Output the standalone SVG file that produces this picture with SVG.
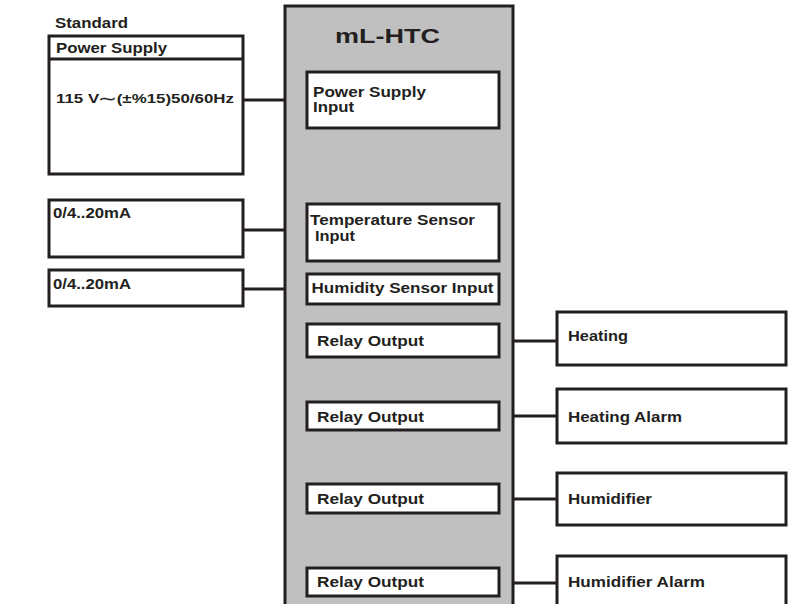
<svg xmlns="http://www.w3.org/2000/svg" width="796" height="604" viewBox="0 0 796 604">
<style>
text{font-family:"Liberation Sans",Arial,sans-serif;font-weight:bold;fill:#231f20}
.b{fill:#fff;stroke:#231f20;stroke-width:3}
.m{fill:#c0c0c0;stroke:#231f20;stroke-width:3}
.c line{stroke:#231f20;stroke-width:3}
.s{font-size:14px}
.r{font-size:15px}
</style>
<rect width="796" height="604" fill="#fff"/>
<g id="main">
<rect class="m" x="285" y="6" width="228" height="620"/>
<text x="335" y="42.5" font-size="20" textLength="105" lengthAdjust="spacingAndGlyphs">mL-HTC</text>
</g>
<g class="c" id="connectors">
<line x1="244" y1="100" x2="285" y2="100"/>
<line x1="244" y1="230" x2="285" y2="230"/>
<line x1="244" y1="289" x2="285" y2="289"/>
<line x1="513" y1="341" x2="557" y2="341"/>
<line x1="513" y1="416" x2="557" y2="416"/>
<line x1="513" y1="499" x2="557" y2="499"/>
<line x1="513" y1="583" x2="557" y2="583"/>
</g>
<g id="power-supply">
<text class="s" x="55" y="28" textLength="73" lengthAdjust="spacingAndGlyphs">Standard</text>
<rect class="b" x="49" y="36" width="194" height="138"/>
<line x1="49" y1="59" x2="243" y2="59" stroke="#231f20" stroke-width="3"/>
<text class="s" x="56" y="53" textLength="111" lengthAdjust="spacingAndGlyphs">Power Supply</text>
<text x="56" y="103" font-size="13.5" textLength="178" lengthAdjust="spacingAndGlyphs">115 V⁓(±%15)50/60Hz</text>
</g>
<g id="temp-source">
<rect class="b" x="49" y="200" width="194" height="57"/>
<text class="s" x="53" y="217.5" textLength="78" lengthAdjust="spacingAndGlyphs">0/4..20mA</text>
</g>
<g id="hum-source">
<rect class="b" x="49" y="270" width="194" height="36"/>
<text class="s" x="53" y="289" textLength="78" lengthAdjust="spacingAndGlyphs">0/4..20mA</text>
</g>
<g id="psu-input">
<rect class="b" x="307" y="72" width="192" height="56"/>
<text class="s" x="313" y="97" textLength="113" lengthAdjust="spacingAndGlyphs">Power Supply</text>
<text class="s" x="313" y="112" textLength="41" lengthAdjust="spacingAndGlyphs">Input</text>
</g>
<g id="temp-input">
<rect class="b" x="307" y="204" width="192" height="57"/>
<text class="s" x="310" y="225" textLength="165" lengthAdjust="spacingAndGlyphs">Temperature Sensor</text>
<text class="s" x="315" y="240.5" textLength="40" lengthAdjust="spacingAndGlyphs">Input</text>
</g>
<g id="hum-input">
<rect class="b" x="307" y="274" width="192" height="30"/>
<text class="s" x="311.5" y="293" textLength="182" lengthAdjust="spacingAndGlyphs">Humidity Sensor Input</text>
</g>
<g id="relay1">
<rect class="b" x="307" y="324" width="192" height="33"/>
<text class="r" x="317" y="345.5" textLength="107" lengthAdjust="spacingAndGlyphs">Relay Output</text>
</g>
<g id="relay2">
<rect class="b" x="307" y="402" width="192" height="28"/>
<text class="r" x="317" y="421.5" textLength="107" lengthAdjust="spacingAndGlyphs">Relay Output</text>
</g>
<g id="relay3">
<rect class="b" x="307" y="484" width="192" height="29"/>
<text class="r" x="317" y="503.5" textLength="107" lengthAdjust="spacingAndGlyphs">Relay Output</text>
</g>
<g id="relay4">
<rect class="b" x="307" y="568" width="192" height="28"/>
<text class="r" x="317" y="587" textLength="107" lengthAdjust="spacingAndGlyphs">Relay Output</text>
</g>
<g id="heating">
<rect class="b" x="557" y="312" width="229" height="53"/>
<text class="r" x="568" y="341" textLength="60" lengthAdjust="spacingAndGlyphs">Heating</text>
</g>
<g id="heating-alarm">
<rect class="b" x="557" y="389" width="229" height="54"/>
<text class="r" x="568" y="421.5" textLength="114" lengthAdjust="spacingAndGlyphs">Heating Alarm</text>
</g>
<g id="humidifier">
<rect class="b" x="557" y="473" width="229" height="52"/>
<text class="r" x="568" y="503.5" textLength="84" lengthAdjust="spacingAndGlyphs">Humidifier</text>
</g>
<g id="humidifier-alarm">
<rect class="b" x="557" y="556" width="229" height="60"/>
<text class="r" x="568" y="587" textLength="137" lengthAdjust="spacingAndGlyphs">Humidifier Alarm</text>
</g>
</svg>
